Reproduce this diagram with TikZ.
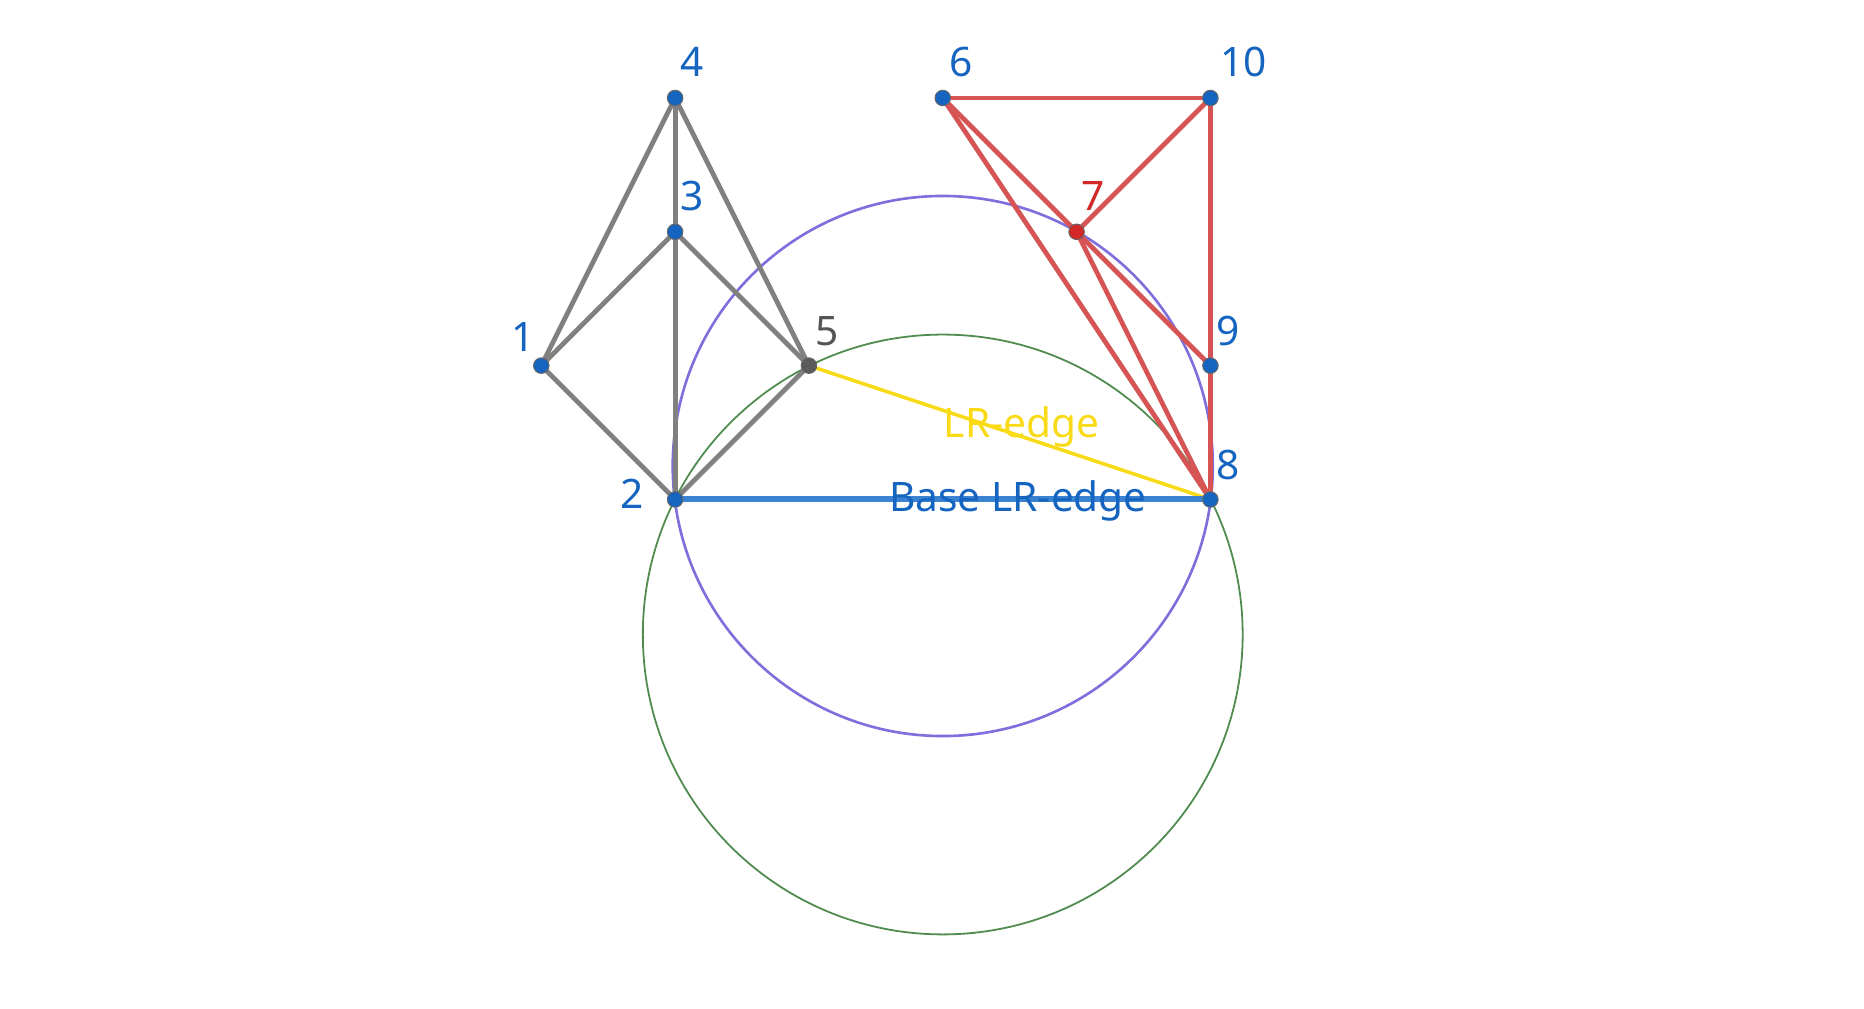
\documentclass[tikz,border=0pt]{standalone}
\usepackage{fontspec}
\setmainfont{Noto Sans}
\definecolor{nb}{RGB}{21,101,192}
\definecolor{ny}{RGB}{250,218,20}
\definecolor{nr}{RGB}{214,84,84}
\definecolor{ndr}{RGB}{210,40,40}
\definecolor{ngd}{RGB}{90,90,90}
\definecolor{ngl}{RGB}{85,85,85}
\definecolor{ng}{RGB}{128,128,128}
\definecolor{np}{RGB}{128,110,220}
\definecolor{ngr}{RGB}{80,140,80}
\definecolor{nbl}{RGB}{60,130,210}
\begin{document}
\begin{tikzpicture}[x=1pt,y=-1pt,
  dot/.style={circle,fill=#1,draw=black!60,line width=0.8pt,inner sep=0pt,minimum size=13pt},
  lbl/.style={text=#1,font=\fontsize{34}{34}\selectfont,inner sep=0pt}]
\useasboundingbox (0,0) rectangle (1560,844);
\coordinate (p1) at (453,306); \coordinate (p2) at (565,418);
\coordinate (p3) at (565,194); \coordinate (p4) at (565,82);
\coordinate (p5) at (677,306); \coordinate (p6) at (789,82);
\coordinate (p7) at (901,194); \coordinate (p8) at (1013,418);
\coordinate (p9) at (1013,306); \coordinate (p10) at (1013,82);
\coordinate (cp) at (789,390); \coordinate (cg) at (789,531);
\draw[np,line width=2.2pt] (cp) circle (226);
\draw[ngr,line width=1.5pt] (cg) circle (251);
\foreach \a/\b in {1/4,1/3,1/2,4/3,4/5,3/2,3/5,2/5}
  \draw[line width=4pt,ng] (p\a)--(p\b);
\foreach \a/\b in {6/10,6/7,6/8,10/7,10/9,9/8,7/8,7/9}
  \draw[line width=4pt,nr] (p\a)--(p\b);
\draw[ny,line width=3pt] (p5)--(p8);
\draw[nbl,line width=5pt] (p2)--(p8);
\foreach \i in {1,2,3,4,6,8,9,10} \node[dot=nb] (n\i) at (p\i) {};
\node[dot=ngd] (n5) at (p5) {};
\node[dot=ndr] (n7) at (p7) {};
\node[lbl=nb] (l1) at (438,282) {1};
\node[lbl=nb] (l2) at (529,413) {2};
\node[lbl=nb] (l3) at (579,164) {3};
\node[lbl=nb] (l4) at (579,52) {4};
\node[lbl=ngl] (l5) at (692,277) {5};
\node[lbl=nb] (l6) at (804,52) {6};
\node[lbl=ndr] (l7) at (915,164) {7};
\node[lbl=nb] (l8) at (1028,389) {8};
\node[lbl=nb] (l9) at (1028,277) {9};
\node[lbl=nb] (l10) at (1041,52) {10};
\node[lbl=ny] (le) at (855,357) {LR-edge};
\node[lbl=nb] (lb) at (852,419) {Base LR-edge};
\end{tikzpicture}
\end{document}
